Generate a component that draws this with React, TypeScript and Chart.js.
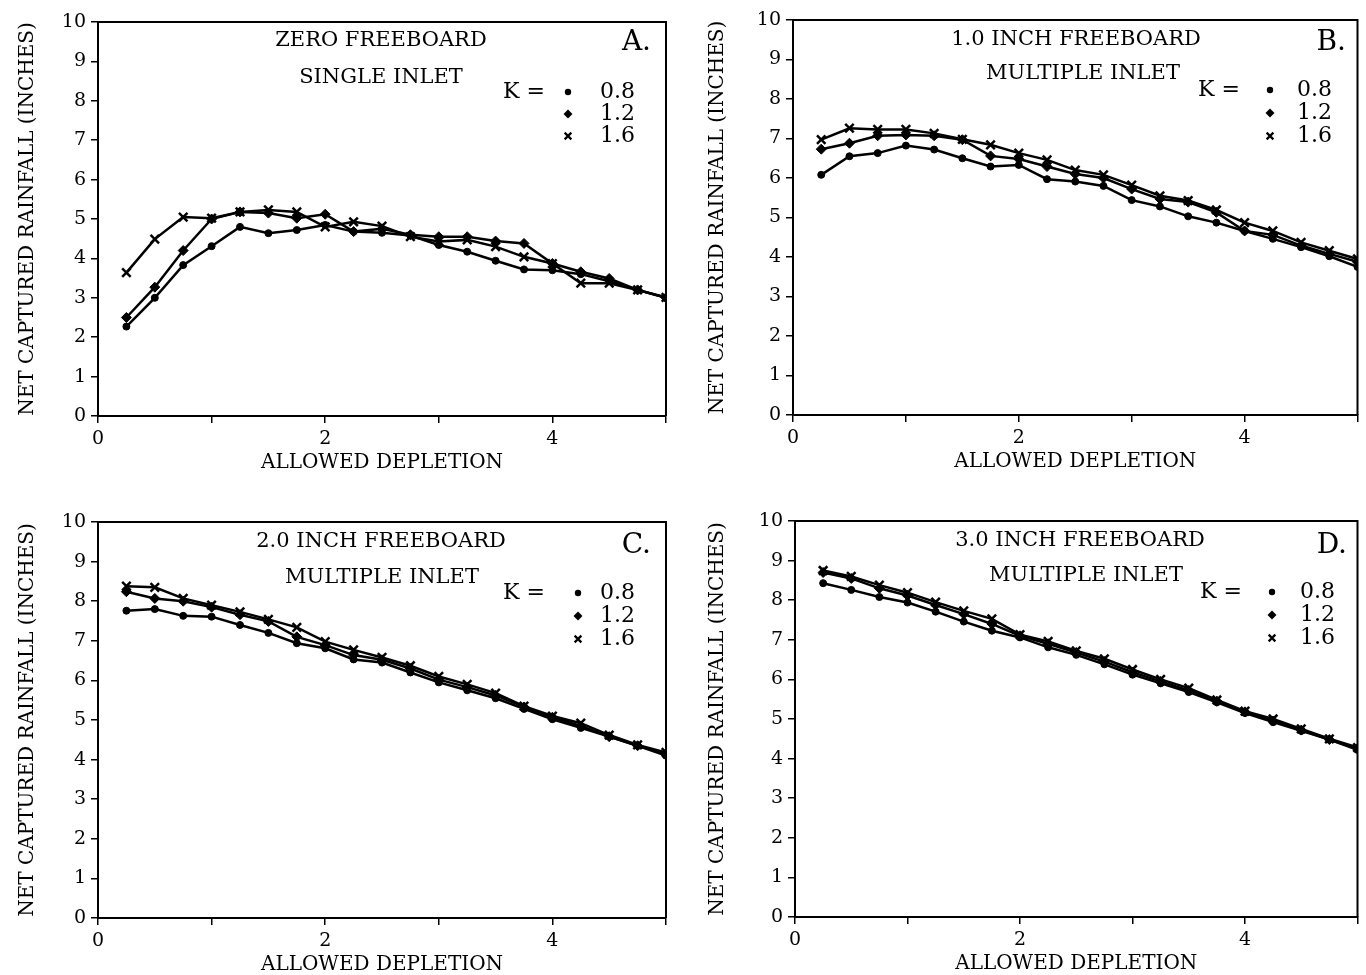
import React, { useEffect, useRef } from "react";
import { Chart, registerables } from "chart.js";

Chart.register(...registerables);

// ---------- data ----------
const allowedDepletion = [0.25, 0.5, 0.75, 1.0, 1.25, 1.5, 1.75, 2.0, 2.25, 2.5, 2.75, 3.0, 3.25, 3.5, 3.75, 4.0, 4.25, 4.5, 4.75, 5.0];
const kValues = ["0.8", "1.2", "1.6"];
const xTickLabelValues = [0, 2, 4];
const yTickValues = [0, 1, 2, 3, 4, 5, 6, 7, 8, 9, 10];

const panelA_K08 = [2.27, 3.0, 3.83, 4.31, 4.8, 4.64, 4.72, 4.85, 4.68, 4.65, 4.58, 4.34, 4.17, 3.94, 3.72, 3.7, 3.6, 3.42, 3.2, 3.0];
const panelA_K12 = [2.5, 3.27, 4.2, 5.0, 5.18, 5.15, 5.02, 5.12, 4.68, 4.75, 4.6, 4.55, 4.55, 4.44, 4.38, 3.87, 3.66, 3.49, 3.2, 3.0];
const panelA_K16 = [3.64, 4.49, 5.05, 5.02, 5.18, 5.23, 5.18, 4.8, 4.93, 4.82, 4.55, 4.43, 4.47, 4.3, 4.04, 3.87, 3.37, 3.37, 3.2, 3.01];

const panelB_K08 = [6.08, 6.55, 6.63, 6.82, 6.72, 6.5, 6.29, 6.33, 5.97, 5.91, 5.8, 5.44, 5.28, 5.03, 4.87, 4.66, 4.46, 4.25, 4.02, 3.75];
const panelB_K12 = [6.73, 6.88, 7.07, 7.09, 7.07, 6.97, 6.56, 6.48, 6.29, 6.1, 6.0, 5.72, 5.47, 5.39, 5.13, 4.66, 4.56, 4.29, 4.08, 3.88];
const panelB_K16 = [6.97, 7.26, 7.23, 7.23, 7.13, 6.98, 6.84, 6.63, 6.46, 6.2, 6.08, 5.82, 5.55, 5.43, 5.19, 4.87, 4.66, 4.37, 4.16, 3.95];

const panelC_K08 = [7.76, 7.8, 7.63, 7.61, 7.4, 7.2, 6.94, 6.81, 6.53, 6.45, 6.2, 5.95, 5.75, 5.55, 5.28, 5.02, 4.8, 4.58, 4.35, 4.1];
const panelC_K12 = [8.24, 8.07, 8.0, 7.85, 7.66, 7.49, 7.1, 6.89, 6.64, 6.52, 6.3, 6.02, 5.83, 5.62, 5.33, 5.07, 4.85, 4.58, 4.35, 4.15];
const panelC_K16 = [8.38, 8.35, 8.07, 7.9, 7.73, 7.54, 7.34, 6.98, 6.77, 6.58, 6.37, 6.1, 5.9, 5.68, 5.35, 5.1, 4.92, 4.62, 4.37, 4.18];

const panelD_K08 = [8.43, 8.26, 8.08, 7.94, 7.71, 7.46, 7.23, 7.06, 6.81, 6.62, 6.38, 6.12, 5.9, 5.68, 5.42, 5.15, 4.92, 4.7, 4.48, 4.22];
const panelD_K12 = [8.7, 8.55, 8.3, 8.12, 7.88, 7.65, 7.4, 7.1, 6.9, 6.68, 6.45, 6.18, 5.95, 5.72, 5.45, 5.18, 4.95, 4.72, 4.48, 4.25];
const panelD_K16 = [8.75, 8.6, 8.38, 8.19, 7.95, 7.73, 7.53, 7.13, 6.96, 6.72, 6.52, 6.25, 6.0, 5.78, 5.48, 5.2, 5.0, 4.75, 4.5, 4.28];

const titleLine1 = ["ZERO FREEBOARD", "1.0 INCH FREEBOARD", "2.0 INCH FREEBOARD", "3.0 INCH FREEBOARD"];
const titleLine2 = ["SINGLE INLET", "MULTIPLE INLET", "MULTIPLE INLET", "MULTIPLE INLET"];
const panelLetters = ["A.", "B.", "C.", "D."];
const xAxisTitle = "ALLOWED DEPLETION";
const yAxisTitle = "NET CAPTURED RAINFALL (INCHES)";

// ---------- layout ----------
const FONT = '"DejaVu Serif", serif';
const pointStyles = ["circle", "rectRot", "crossRot"];
const pointRadii = [3.5, 5, 6];
const pointBorders = [1, 1, 2.5];

type Layout = {
  left: number; top: number; width: number; height: number;
  area: { l: number; r: number; t: number; b: number };
  yTitleOffset: number; xTitleOffset: number;
  t1: [number, number]; t2: [number, number]; letter: [number, number];
  kX: number; markerX: number; numX: number; rows: number[];
};

const layouts: Layout[] = [
  { left: 0, top: 0, width: 683, height: 487, area: { l: 98, r: 666, t: 22, b: 416 }, yTitleOffset: 28, xTitleOffset: 24,
    t1: [381, 41], t2: [381, 78], letter: [651, 43], kX: 503, markerX: 568, numX: 600, rows: [92, 114, 136] },
  { left: 683, top: 0, width: 683, height: 487, area: { l: 110, r: 677, t: 20, b: 415 }, yTitleOffset: 35, xTitleOffset: 25,
    t1: [393, 40], t2: [400, 74], letter: [663, 43], kX: 515, markerX: 587, numX: 614, rows: [90, 113, 136] },
  { left: 0, top: 487, width: 683, height: 488, area: { l: 98, r: 666, t: 35, b: 431 }, yTitleOffset: 28, xTitleOffset: 10,
    t1: [381, 55], t2: [382, 91], letter: [651, 59], kX: 503, markerX: 578, numX: 600, rows: [106, 129, 152] },
  { left: 683, top: 487, width: 683, height: 488, area: { l: 112, r: 677, t: 34, b: 430 }, yTitleOffset: 35, xTitleOffset: 11,
    t1: [397, 54], t2: [403, 89], letter: [664, 59], kX: 517, markerX: 589, numX: 617, rows: [105, 128, 151] },
];

const panelSeries = [
  [panelA_K08, panelA_K12, panelA_K16],
  [panelB_K08, panelB_K12, panelB_K16],
  [panelC_K08, panelC_K12, panelC_K16],
  [panelD_K08, panelD_K12, panelD_K16],
];

function drawMarker(ctx: CanvasRenderingContext2D, style: string, x: number, y: number, r: number) {
  ctx.save();
  ctx.fillStyle = "#000";
  ctx.strokeStyle = "#000";
  ctx.lineWidth = 2.2;
  ctx.beginPath();
  if (style === "circle") {
    ctx.arc(x, y, r, 0, Math.PI * 2);
    ctx.fill();
  } else if (style === "rectRot") {
    ctx.moveTo(x, y - r);
    ctx.lineTo(x + r, y);
    ctx.lineTo(x, y + r);
    ctx.lineTo(x - r, y);
    ctx.closePath();
    ctx.fill();
  } else {
    const d = r * 0.75;
    ctx.moveTo(x - d, y - d);
    ctx.lineTo(x + d, y + d);
    ctx.moveTo(x + d, y - d);
    ctx.lineTo(x - d, y + d);
    ctx.stroke();
  }
  ctx.restore();
}

function makeAnnotationPlugin(idx: number) {
  const lay = layouts[idx];
  return {
    id: "panelAnnotations" + idx,
    afterDraw(chart: any) {
      const ctx: CanvasRenderingContext2D = chart.ctx;
      const a = chart.chartArea;
      ctx.save();
      ctx.strokeStyle = "#000";
      ctx.lineWidth = 2;
      ctx.beginPath();
      ctx.moveTo(a.left, a.top);
      ctx.lineTo(a.right, a.top);
      ctx.lineTo(a.right, a.bottom);
      ctx.stroke();

      ctx.fillStyle = "#000";
      ctx.textBaseline = "middle";
      ctx.font = `21px ${FONT}`;
      ctx.textAlign = "center";
      ctx.fillText(titleLine1[idx], lay.t1[0], lay.t1[1]);
      ctx.fillText(titleLine2[idx], lay.t2[0], lay.t2[1]);

      ctx.font = `28px ${FONT}`;
      ctx.textAlign = "right";
      ctx.fillText(panelLetters[idx], lay.letter[0], lay.letter[1]);

      ctx.font = `22px ${FONT}`;
      ctx.textAlign = "left";
      ctx.fillText("K =", lay.kX, lay.rows[0]);
      kValues.forEach((k, i) => {
        drawMarker(ctx, pointStyles[i], lay.markerX, lay.rows[i], i === 0 ? 3.2 : 4.5);
        ctx.fillText(k, lay.numX, lay.rows[i]);
      });
      ctx.restore();
    },
  };
}

function Panel({ idx }: { idx: number }) {
  const ref = useRef<HTMLCanvasElement | null>(null);
  const lay = layouts[idx];
  useEffect(() => {
    if (!ref.current) return;
    const series = panelSeries[idx];
    const chart = new Chart(ref.current, {
      type: "line",
      data: {
        datasets: series.map((vals, i) => ({
          label: "K = " + kValues[i],
          data: allowedDepletion.map((x, j) => ({ x, y: vals[j] })),
          borderColor: "#000",
          backgroundColor: "#000",
          borderWidth: 2.5,
          pointStyle: pointStyles[i] as any,
          pointRadius: pointRadii[i],
          pointBorderWidth: pointBorders[i],
          pointBackgroundColor: "#000",
          pointBorderColor: "#000",
          tension: 0,
          fill: false,
        })),
      },
      options: {
        animation: false,
        responsive: false,
        devicePixelRatio: 1,
        events: [],
        layout: {
          padding: { left: 0, top: lay.area.t, right: lay.width - lay.area.r, bottom: 0 },
        },
        plugins: { legend: { display: false }, tooltip: { enabled: false }, title: { display: false } },
        scales: {
          x: {
            type: "linear",
            min: 0,
            max: 5,
            afterFit: (s: any) => { s.height = lay.height - lay.area.b; },
            grid: { display: true, drawOnChartArea: false, drawTicks: true, tickLength: 7, color: "#000", lineWidth: 1.5 },
            border: { display: true, color: "#000", width: 2 },
            ticks: {
              stepSize: 1,
              autoSkip: false,
              maxRotation: 0,
              padding: 5,
              color: "#000",
              font: { family: FONT, size: 19 },
              callback: (v: any) => (xTickLabelValues.includes(Number(v)) ? String(v) : ""),
            },
            title: {
              display: true,
              text: xAxisTitle,
              color: "#000",
              font: { family: FONT, size: 20, lineHeight: 1 },
              padding: { top: 0, bottom: lay.xTitleOffset - 10 },
            },
          },
          y: {
            type: "linear",
            min: 0,
            max: 10,
            afterFit: (s: any) => { s.width = lay.area.l; },
            grid: { display: true, drawOnChartArea: false, drawTicks: true, tickLength: 7, color: "#000", lineWidth: 1.5 },
            border: { display: true, color: "#000", width: 2 },
            ticks: {
              stepSize: 1,
              autoSkip: false,
              padding: 5,
              color: "#000",
              font: { family: FONT, size: 19 },
              callback: (v: any) => (yTickValues.includes(Number(v)) ? String(v) : ""),
            },
            title: {
              display: true,
              text: yAxisTitle,
              color: "#000",
              font: { family: FONT, size: 20, lineHeight: 1 },
              padding: { top: lay.yTitleOffset - 10, bottom: 0 },
            },
          },
        },
      } as any,
      plugins: [makeAnnotationPlugin(idx)],
    });
    return () => chart.destroy();
  }, [idx]);
  return (
    <canvas
      ref={ref}
      width={lay.width}
      height={lay.height}
      style={{ position: "absolute", left: lay.left, top: lay.top, width: lay.width, height: lay.height }}
    />
  );
}

export default function App() {
  return (
    <div style={{ position: "absolute", left: 0, top: 0, width: 1366, height: 975, background: "#fff", overflow: "hidden" }}>
      {layouts.map((_, i) => (
        <Panel key={i} idx={i} />
      ))}
    </div>
  );
}
